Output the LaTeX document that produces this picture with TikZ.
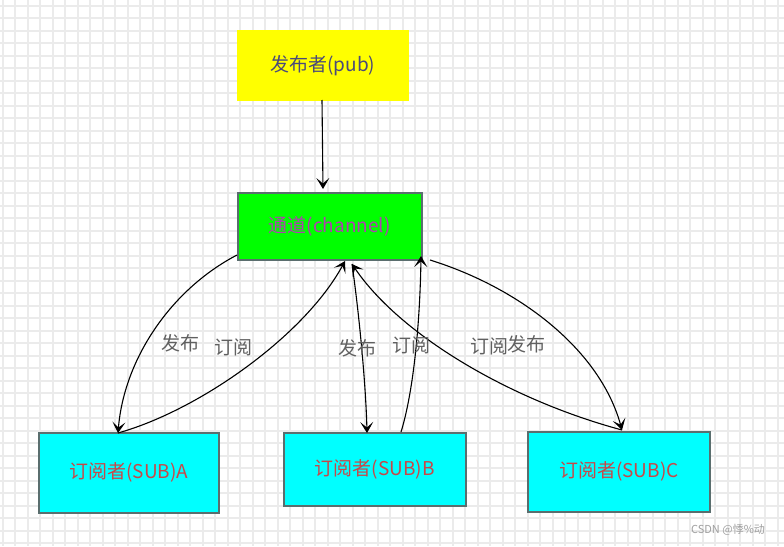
\documentclass[tikz,border=0pt]{standalone}
\usepackage{fontspec}
\setmainfont{Noto Sans CJK SC}
\usetikzlibrary{arrows.meta}
\definecolor{gridc}{HTML}{EBEBEB}
\definecolor{pubtext}{HTML}{4A4A7A}
\definecolor{chantext}{HTML}{B040B0}
\definecolor{subtext}{HTML}{C84848}
\definecolor{lbl}{HTML}{606060}
\definecolor{boxline}{HTML}{5A6E6E}
\definecolor{pubfill}{HTML}{FFFF00}
\definecolor{chanfill}{HTML}{00FF00}
\definecolor{subfill}{HTML}{00FFFF}
\tikzset{
  box/.style={draw=boxline, line width=1.6pt, minimum width=#1, inner sep=0pt, font=\fontsize{19}{22}\selectfont},
  conn/.style={line width=1.1pt, -{Stealth[length=11pt,width=13pt,inset=5.5pt]}},
  lab/.style={text=lbl, font=\fontsize{19}{22}\selectfont, inner sep=0pt}
}
\begin{document}
\begin{tikzpicture}[x=1pt,y=-1pt]
\useasboundingbox (0,0) rectangle (784,546);
\fill[white] (0,0) rectangle (784,546);
\foreach \i in {0,...,63} { \draw[gridc, line width=1.6pt] (2.7+12.5*\i,0) -- (2.7+12.5*\i,546); }
\foreach \j in {0,...,44} { \draw[gridc, line width=1.6pt] (0,5.7+12.5*\j) -- (784,5.7+12.5*\j); }

\node[box={170pt}, draw=pubfill, fill=pubfill, minimum height=69pt, text=pubtext, anchor=north west] (pub) at (237,30) {发布者(pub)};
\node[box={184pt}, fill=chanfill, minimum height=67pt, text=chantext, anchor=north west] (chan) at (237,192) {通道(channel)};
\node[box={180pt}, fill=subfill, minimum height=80pt, text=subtext, anchor=north west] (subA) at (38,432) {订阅者(SUB)A};
\node[box={182pt}, fill=subfill, minimum height=73pt, text=subtext, anchor=north west] (subB) at (283,432) {订阅者(SUB)B};
\node[box={182pt}, fill=subfill, minimum height=80pt, text=subtext, anchor=north west] (subC) at (527,431) {订阅者(SUB)C};

\coordinate (pubS) at (322,100);
\coordinate (chanN) at (323,189);
\coordinate (chanL) at (237,255);
\coordinate (chanA) at (345,261);
\coordinate (chanB) at (352,264);
\coordinate (chanBR) at (421,256);
\coordinate (chanR) at (430,260);
\coordinate (aTop) at (118,433);
\coordinate (bTopL) at (367,433);
\coordinate (bTopR) at (401,432);
\coordinate (cTop) at (622,430);

\draw[conn] (pubS) -- (chanN);
\draw[conn] (chanL) .. controls (170,290) and (124,360) .. (aTop);
\draw[conn] (aTop) .. controls (200,410) and (305,335) .. (chanA);
\draw[conn] (chanB) .. controls (360,320) and (366,390) .. (bTopL);
\draw[conn] (bTopR) .. controls (414,390) and (420,320) .. (chanBR);
\draw[conn] (cTop) .. controls (510,400) and (400,335) .. (chanB);
\draw[conn] (chanR) .. controls (520,288) and (600,350) .. (cTop);

\node[lab] (l1) at (180,343) {发布};
\node[lab] (l2) at (233,347) {订阅};
\node[lab] (l3) at (357,348) {发布};
\node[lab] (l4) at (411,345) {订阅};
\node[lab] (l5) at (489,346) {订阅};
\node[lab] (l6) at (526,344) {发布};

\node[text=gray!75, font=\fontsize{11}{13}\selectfont, inner sep=0pt] (wm) at (728,530) {CSDN @悸\%动};
\end{tikzpicture}
\end{document}
